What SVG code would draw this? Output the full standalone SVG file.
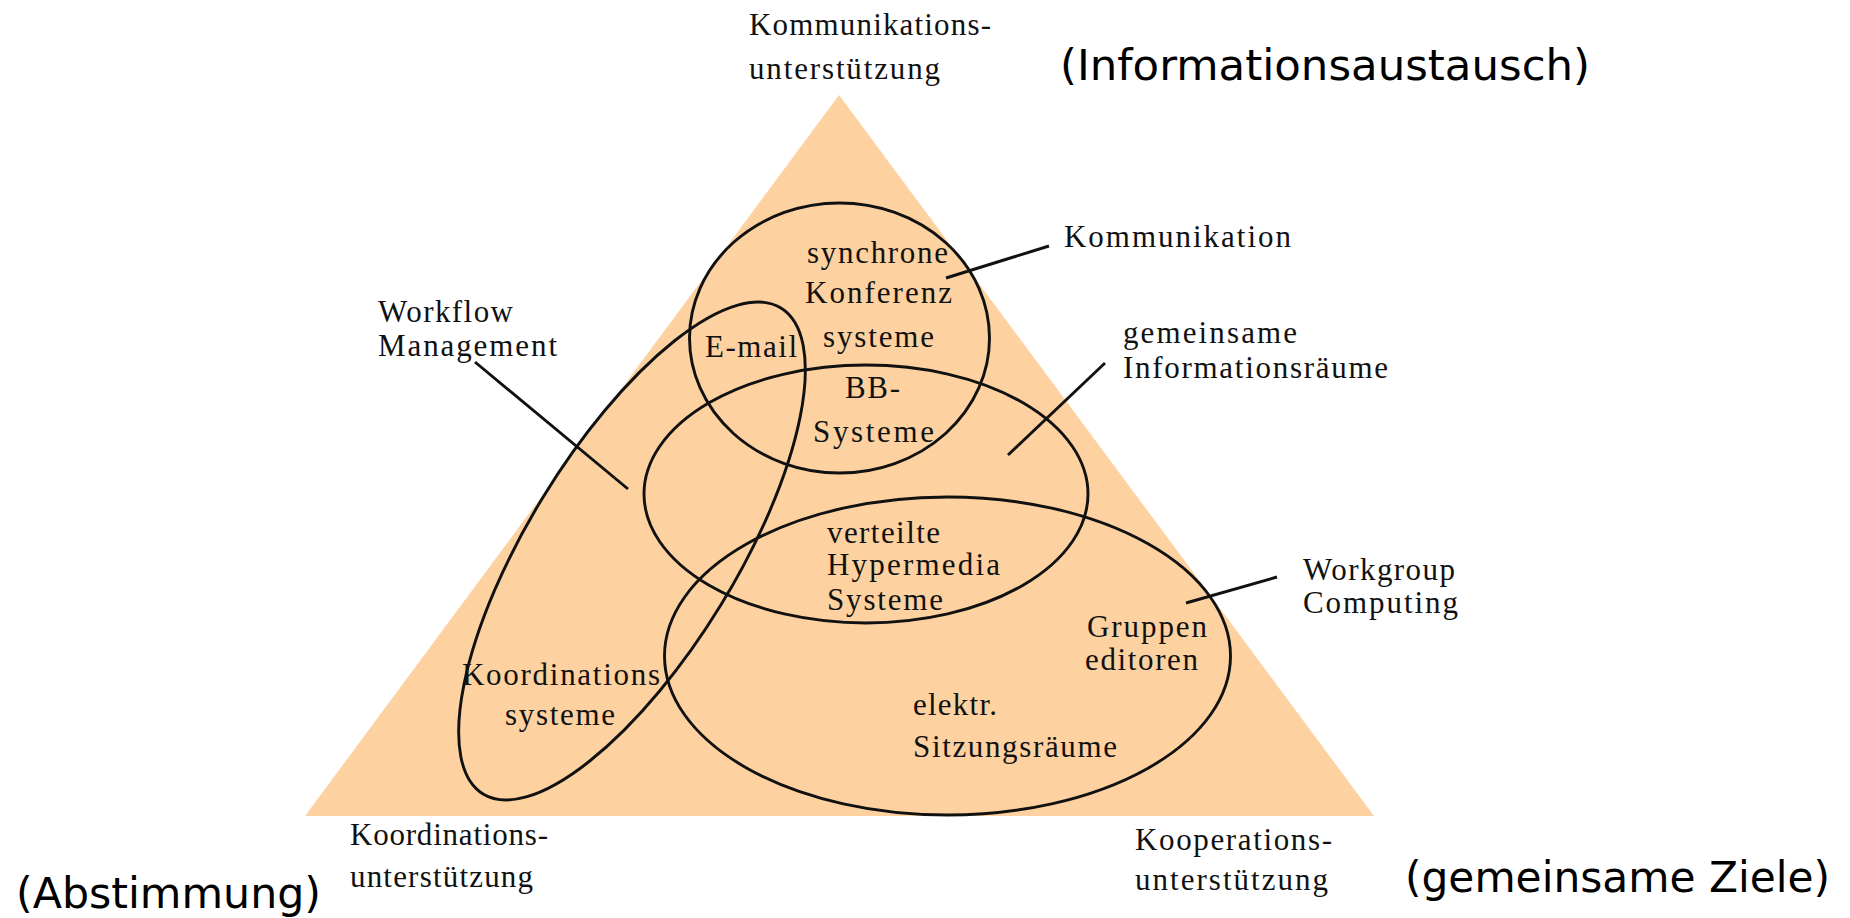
<svg xmlns="http://www.w3.org/2000/svg" width="1850" height="918" viewBox="0 0 1850 918">
<style>
.bg{fill:#ffffff}
.tri{fill:#fdd1a0;stroke:none}
.ell{fill:none;stroke:#111;stroke-width:2.9}
.lead{stroke:#111;stroke-width:2.9;fill:none}
.s{font-family:"Liberation Serif","Times New Roman",serif;font-size:31px;fill:#111}
.big{font-family:"DejaVu Sans",Verdana,sans-serif;font-size:43px;fill:#000}
</style>
<rect class="bg" x="0" y="0" width="1850" height="918"/>
<g id="triangle">
<polygon class="tri" points="839,95 305,816 1374,816"/>
</g>
<g id="ellipse-kommunikation">
<ellipse class="ell" cx="839.5" cy="338" rx="150" ry="135"/>
<text class="s" x="807" y="263" textLength="141" lengthAdjust="spacing">synchrone</text>
<text class="s" x="805" y="303" textLength="147" lengthAdjust="spacing">Konferenz</text>
<text class="s" x="823" y="347" textLength="111" lengthAdjust="spacing">systeme</text>
</g>
<g id="ellipse-informationsraeume">
<ellipse class="ell" cx="866" cy="494" rx="222" ry="129"/>
<text class="s" x="845" y="398" textLength="55" lengthAdjust="spacing">BB-</text>
<text class="s" x="813" y="442" textLength="121" lengthAdjust="spacing">Systeme</text>
<text class="s" x="827" y="543" textLength="113" lengthAdjust="spacing">verteilte</text>
<text class="s" x="827" y="575" textLength="173" lengthAdjust="spacing">Hypermedia</text>
<text class="s" x="827" y="610" textLength="116" lengthAdjust="spacing">Systeme</text>
</g>
<g id="ellipse-workgroup">
<ellipse class="ell" cx="947.5" cy="656" rx="283" ry="159"/>
<text class="s" x="1087" y="637" textLength="120" lengthAdjust="spacing">Gruppen</text>
<text class="s" x="1085" y="670" textLength="113" lengthAdjust="spacing">editoren</text>
<text class="s" x="913" y="715" textLength="84" lengthAdjust="spacing">elektr.</text>
<text class="s" x="913" y="757" textLength="204" lengthAdjust="spacing">Sitzungsräume</text>
</g>
<g id="ellipse-workflow">
<ellipse class="ell" cx="632" cy="551" rx="285" ry="104" transform="rotate(-58.5 632 551)"/>
<text class="s" x="705" y="357" textLength="92" lengthAdjust="spacing">E-mail</text>
<text class="s" x="462" y="685" textLength="198" lengthAdjust="spacing">Koordinations</text>
<text class="s" x="505" y="725" textLength="110" lengthAdjust="spacing">systeme</text>
</g>
<g id="connectors">
<line class="lead" x1="946" y1="278" x2="1049" y2="246"/>
<line class="lead" x1="1008" y1="455" x2="1105" y2="363"/>
<line class="lead" x1="475" y1="362" x2="628" y2="489"/>
<line class="lead" x1="1186" y1="603" x2="1277" y2="577"/>
</g>
<g id="label-kommunikation">
<text class="s" x="1064" y="247" textLength="227" lengthAdjust="spacing">Kommunikation</text>
</g>
<g id="label-informationsraeume">
<text class="s" x="1123" y="343" textLength="174" lengthAdjust="spacing">gemeinsame</text>
<text class="s" x="1123" y="378" textLength="265" lengthAdjust="spacing">Informationsräume</text>
</g>
<g id="label-workflow">
<text class="s" x="378" y="322" textLength="135" lengthAdjust="spacing">Workflow</text>
<text class="s" x="378" y="356" textLength="179" lengthAdjust="spacing">Management</text>
</g>
<g id="label-workgroup">
<text class="s" x="1303" y="580" textLength="152" lengthAdjust="spacing">Workgroup</text>
<text class="s" x="1303" y="613" textLength="155" lengthAdjust="spacing">Computing</text>
</g>
<g id="corner-kommunikation">
<text class="s" x="749" y="35" textLength="242" lengthAdjust="spacing">Kommunikations-</text>
<text class="s" x="749" y="79" textLength="191" lengthAdjust="spacing">unterstützung</text>
<text class="big" x="1060" y="80" textLength="530" lengthAdjust="spacingAndGlyphs">(Informationsaustausch)</text>
</g>
<g id="corner-koordination">
<text class="s" x="350" y="845" textLength="198" lengthAdjust="spacing">Koordinations-</text>
<text class="s" x="350" y="887" textLength="183" lengthAdjust="spacing">unterstützung</text>
<text class="big" x="16" y="908" textLength="305" lengthAdjust="spacingAndGlyphs">(Abstimmung)</text>
</g>
<g id="corner-kooperation">
<text class="s" x="1135" y="850" textLength="197" lengthAdjust="spacing">Kooperations-</text>
<text class="s" x="1135" y="890" textLength="193" lengthAdjust="spacing">unterstützung</text>
<text class="big" x="1405" y="892" textLength="425" lengthAdjust="spacingAndGlyphs">(gemeinsame Ziele)</text>
</g>
</svg>
